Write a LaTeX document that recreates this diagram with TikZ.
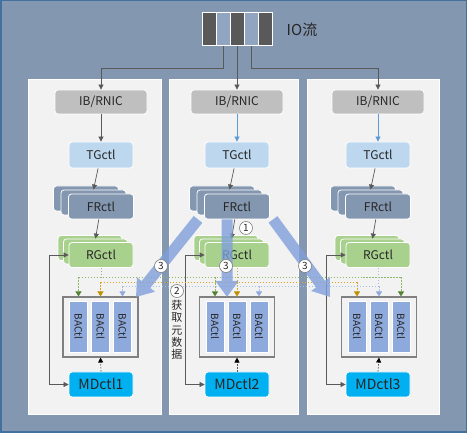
\documentclass[tikz,border=0pt]{standalone}
\usepackage{fontspec}
\setmainfont{Noto Sans CJK SC}
\usetikzlibrary{arrows.meta,calc}
\definecolor{bgc}{HTML}{8497B0}
\definecolor{edgec}{HTML}{41719C}
\definecolor{panelc}{HTML}{F2F2F2}
\definecolor{ibc}{HTML}{BFBFBF}
\definecolor{tgc}{HTML}{BDD7EE}
\definecolor{frc}{HTML}{8497B0}
\definecolor{rgc}{HTML}{A9D18E}
\definecolor{bac}{HTML}{8EA9DB}
\definecolor{mdc}{HTML}{00B0F0}
\definecolor{txtc}{HTML}{262626}
\definecolor{connc}{HTML}{595959}
\definecolor{bluec}{HTML}{5B9BD5}
\definecolor{iodark}{HTML}{595959}
\definecolor{iolight}{HTML}{92A5C0}
\definecolor{gline}{HTML}{8CB86A}
\definecolor{gtip}{HTML}{548235}
\definecolor{oline}{HTML}{D9A51F}
\definecolor{otip}{HTML}{BF9000}
\definecolor{bline}{HTML}{A9BEE4}
\definecolor{btip}{HTML}{8EA9DB}
\definecolor{bigc}{HTML}{7F9FDA}
\begin{document}
\begin{tikzpicture}[x=1pt,y=-1pt,
  box/.style={draw=white, line width=0.8pt, rounded corners=3pt, inner sep=0pt, text=txtc, font=\fontsize{12}{14}\selectfont},
  ibbox/.style={box, fill=ibc, minimum width=92pt, minimum height=24pt},
  tgbox/.style={box, fill=tgc, minimum width=64pt, minimum height=26pt},
  frbox/.style={box, fill=frc, minimum width=65pt, minimum height=25pt},
  rgbox/.style={box, fill=rgc, minimum width=64pt, minimum height=25pt},
  mdbox/.style={box, fill=mdc, minimum width=64pt, minimum height=25pt, font=\fontsize{14}{16}\selectfont},
  bar/.style={draw=white, line width=0.6pt, fill=bac, minimum width=18pt, minimum height=51pt, inner sep=0pt, text=txtc, font=\fontsize{10}{12}\selectfont},
  cont/.style={draw=gray, line width=1.1pt, fill=panelc, minimum width=75pt, minimum height=60pt, inner sep=0pt},
  iocell/.style={draw=white, line width=0.9pt, minimum width=14pt, minimum height=33pt, inner sep=0pt},
  conn/.style={draw=connc, line width=0.7pt, -{Triangle[length=5pt,width=5pt]}},
  bconn/.style={draw=bluec, line width=0.7pt, -{Triangle[length=5pt,width=5pt]}},
  circ/.style={circle, draw=gray, line width=0.6pt, fill=white, minimum size=13pt, inner sep=0pt, text=txtc, font=\fontsize{10}{10}\selectfont},
  dotl/.style={line width=0.9pt, dash pattern=on 1.6pt off 1.4pt},
  gdot/.style={dotl, draw=gline},
  odot/.style={dotl, draw=oline},
  bdot/.style={dotl, draw=bline},
  big/.style={draw=bigc, line width=11pt, -{Triangle[length=16pt,width=22pt]}}
]
\fill[bgc] (0,0) rectangle (467,433);
\draw[edgec, line width=1.5pt] (0.75,0.75) rectangle (466.25,432.25);
% panels
\foreach \xa/\xb in {28/161,169/298,307/439}
  \draw[draw=white, line width=0.6pt, fill=panelc] (\xa,79) rectangle (\xb,414);
% IO stream
\node[iocell, fill=iodark] (s1) at (209,29) {};
\node[iocell, fill=iolight] (s2) at (223,29) {};
\node[iocell, fill=iodark] (s3) at (237,29) {};
\node[iocell, fill=iolight] (s4) at (251,29) {};
\node[iocell, fill=iodark] (s5) at (265,29) {};
\node[text=txtc, font=\fontsize{15}{17}\selectfont] (io) at (302,30) {IO流};
% columns
\foreach \i/\x/\cx in {1/101/100.5, 2/237/237, 3/378/379} {
  \node[ibbox] (ib\i) at (\x,102) {IB/RNIC};
  \node[tgbox] (tg\i) at (\x,155) {TGctl};
  \node[frbox] (fr\i a) at (\x-15,198.5) {};
  \node[frbox] (fr\i b) at (\x-7.5,202.5) {};
  \node[frbox] (fr\i) at (\x,206.5) {FRctl};
  \node[rgbox] (rg\i a) at (\x-11,248) {};
  \node[rgbox] (rg\i b) at (\x-5.5,251.5) {};
  \node[rgbox] (rg\i) at (\x,255) {RGctl};
  \node[cont] (c\i) at (\cx,327) {};
  \node[bar] (b\i1) at (\cx-22,326.5) {\rotatebox{-90}{BACtl}};
  \node[bar] (b\i2) at (\cx,326.5) {\rotatebox{-90}{BACtl}};
  \node[bar] (b\i3) at (\cx+22,326.5) {\rotatebox{-90}{BACtl}};
  \node[mdbox] (md\i) at (\x,384.5) {MDctl\i};
  \draw[conn] (tg\i) -- (fr\i b.north);
  \draw[{Triangle[length=5pt,width=5pt]}-{Triangle[length=5pt,width=5pt]}, draw=connc, line width=0.7pt] (rg\i.west) -- ++(-19,0) |- (md\i.west);
  \draw[connc, line width=0.7pt, dash pattern=on 1.5pt off 1.5pt, -{Triangle[length=5pt,width=5pt,color=black]}] (md\i.north) -- (c\i.south);
}
% IO connectors
\draw[conn] (s2.south) -- ++(0,22) -| (ib1.north);
\draw[conn] (s3.south) -- (ib2.north);
\draw[conn] (s4.south) -- ++(0,22) -| (ib3.north);
\draw[conn] (ib1) -- (tg1);
\draw[bconn] (ib2) -- (tg2);
\draw[bconn] (ib3) -- (tg3);
\draw[conn] (fr1) -- (rg1b.north);
\draw[conn] (fr2) -- (rg2b.north);
\draw[conn] (fr3) -- (rg3b.north);
% dotted colored lines
\coordinate (gy) at (0,277);
\coordinate (oy) at (0,282);
\coordinate (by) at (0,286);
\draw[gdot] (rg1.south) -- (rg1.south |- gy);
\draw[gdot] (b11.north |- gy) -- (b33.north |- gy);
\foreach \b/\c in {b11/c1,b21/c2,b33/c3}
  \draw[gdot, -{Triangle[length=5pt,width=6pt,color=gtip]}] (\b.north |- gy) -- (\b.north |- \c.north);
\draw[odot] (rg2.south) -- (rg2.south |- oy);
\draw[odot] (b12.north |- oy) -- (b31.north |- oy);
\foreach \b/\c in {b12/c1,b22/c2,b31/c3}
  \draw[odot, -{Triangle[length=5pt,width=6pt,color=otip]}] (\b.north |- oy) -- (\b.north |- \c.north);
\draw[bdot] (rg3.south) -- (rg3.south |- by);
\draw[bdot] (b13.north |- by) -- (b32.north |- by);
\foreach \b/\c in {b13/c1,b23/c2,b32/c3}
  \draw[bdot, -{Triangle[length=5pt,width=6pt,color=btip]}] (\b.north |- by) -- (\b.north |- \c.north);
% big arrows
\coordinate (t1) at (136,297);
\coordinate (t2) at (227,297);
\coordinate (t3) at (330,297);
\begin{scope}[transparency group, opacity=0.8]
\draw[big] ($(fr2.south)+(-39,0)$) -- (t1);
\draw[big] ($(fr2.south)+(-10,0)$) -- (t2);
\draw[big] ($(fr2.south)+(36,0)$) -- (t3);
\end{scope}
% labels
\node[circ] (n1) at (246,228) {1};
\node[circ] (n31) at (161,266) {3};
\node[circ] (n32) at (226,266) {3};
\node[circ] (n33) at (305,266) {3};
\node[circ] (n2) at (177,291) {2};
\node[text=txtc, align=center, inner sep=0pt, font=\fontsize{11}{12.3}\selectfont] (meta) at (177,330) {获\\取\\元\\数\\据};
\end{tikzpicture}
\end{document}
